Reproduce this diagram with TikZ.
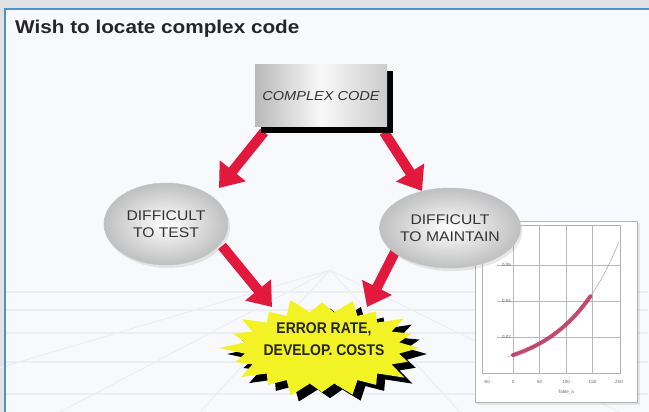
\documentclass[tikz,border=0pt]{standalone}
\usepackage{fontspec}
\setmainfont{Liberation Sans}
\newfontfamily\comicfont[FakeStretch=1.12]{Liberation Sans}
\newfontfamily\burstfont[FakeStretch=0.9]{Liberation Sans}
\usetikzlibrary{arrows.meta,calc,shapes.geometric,shadows}
\definecolor{bgout}{HTML}{E0E2E4}
\definecolor{panel}{HTML}{F8F9FC}
\definecolor{floorline}{HTML}{ECEEF1}
\definecolor{frameblue}{HTML}{4F92C8}
\definecolor{arrred}{HTML}{E2183C}
\definecolor{burstyellow}{HTML}{F2F224}
\definecolor{txtgray}{HTML}{333333}
\definecolor{curvered}{HTML}{B8305A}
\newcommand\burstoutline{%
  ({322+78*cos(-9)},{348+36*sin(-9)})
  \foreach \k/\s in {0/1.00,1/0.93,2/1.05,3/0.95,4/1.02,5/0.92,6/1.04,7/0.95,8/1.03,9/0.94,
                     10/1.06,11/0.96,12/1.02,13/0.93,14/1.05,15/0.95,16/1.03,17/0.94,18/1.04,19/0.97}
  { -- ({322+\s*97*cos(\k*18)},{348+\s*48*sin(\k*18)})
    -- ({322+78*cos(\k*18+9)},{348+36*sin(\k*18+9)}) } -- cycle}
\begin{document}
\begin{tikzpicture}[x=1pt,y=-1pt,
  redarrow/.style={draw=arrred, line width=10pt, -{Triangle[length=22pt,width=32pt]}},
  codebox/.style={rectangle, minimum width=132pt, minimum height=62pt, inner sep=0pt,
    left color=gray!55, right color=gray!40, middle color=gray!5,
    general shadow={fill=black, shadow xshift=6pt, shadow yshift=-6pt},
    font=\comicfont\itshape\fontsize{13}{15}\selectfont, text=txtgray},
  ellnode/.style={ellipse, inner sep=0pt, shading=radial, inner color=white, outer color=gray!50,
    draw=gray!45, line width=0.5pt, align=center,
    drop shadow={opacity=0.18, shadow xshift=2pt, shadow yshift=-3pt},
    font=\comicfont\fontsize{14}{17}\selectfont, text=txtgray},
  grid line/.style={draw=gray!55, line width=0.4pt},
  ticklab/.style={font=\fontsize{4.5}{5}\selectfont, text=gray!80!black, inner sep=0pt}]
\useasboundingbox (0,0) rectangle (649,412);
% backgrounds
\fill[bgout] (0,0) rectangle (649,412);
\fill[panel] (5,9) rectangle (649,412);
% faint floor lines
\foreach \yy in {292,310,333,362,394}
  \draw[floorline, line width=1.4pt] (6,\yy) -- (648,\yy);
\foreach \xx in {-150,60,200,460,620}
  \draw[floorline, line width=1pt] (330,270) -- (\xx,412);
\draw[frameblue, line width=1.6pt] (5,414) -- (5,9) -- (650,9);
% title
\node[anchor=base west, inner sep=0pt, font=\comicfont\bfseries\fontsize{18.5}{20}\selectfont, text=black!85]
  (title) at (15,34) {Wish to locate complex code};
% plot inset
\fill[black, opacity=0.08] (477,223) rectangle (640,405);
\filldraw[fill=white, draw=gray!60, line width=0.6pt] (475,221) rectangle (637,402);
\draw[gray!60, line width=0.5pt] (482,225) rectangle (620,373);
\foreach \d in {0,50,100,150}
  \draw[grid line] ({513+0.53*\d},225) -- ({513+0.53*\d},373);
\foreach \v/\yy in {0.02/337,0.04/301,0.06/265} {
  \draw[grid line] (497,\yy) -- (620,\yy);
  \node[ticklab, anchor=east] at (511,\yy) {\v};
}
\foreach \d/\lab in {-50/-50,0/0,50/50,100/100,150/150,200/200}
  \node[ticklab] at ({513+0.53*\d},382) {\lab};
\node[ticklab] at (566,392) {Table\_a};
\draw[gray!70, line width=0.5pt] plot[domain=-10:200, samples=50, smooth]
  ({513+0.53*\x},{373-17.9*exp(0.00996*\x)});
\draw[curvered, opacity=0.85, line width=4pt, line cap=round] plot[domain=0:146, samples=40, smooth]
  ({513+0.53*\x},{373-17.9*exp(0.00996*\x)});
% starburst
\begin{scope}[shift={(8,6)}]
  \fill[black] \burstoutline;
\end{scope}
\fill[burstyellow] \burstoutline;
\node[font=\burstfont\bfseries\fontsize{15.5}{22}\selectfont, text=black!85, align=center, inner sep=0pt]
  (err) at (324,339) {ERROR RATE,\\DEVELOP. COSTS};
% node positions
\coordinate (codec) at (321,96);
\coordinate (testc) at (166,224);
\coordinate (maintc) at (450,228);
% arrows
\draw[redarrow] ([shift={(-57,36)}]codec) -- ([shift={(53,-36)}]testc);
\draw[redarrow] ([shift={(63,36)}]codec) -- ([shift={(-28,-37)}]maintc);
\draw[redarrow] ([shift={(56,22)}]testc) -- ([shift={(-52,-32)}]err.center);
\draw[redarrow] ([shift={(-55,24)}]maintc) -- ([shift={(43,-32)}]err.center);
% box and ellipses
\node[codebox] (code) at (codec) {COMPLEX CODE};
\node[ellnode, minimum width=124pt, minimum height=82pt] (test) at (testc) {DIFFICULT\\TO TEST};
\node[ellnode, minimum width=136pt, minimum height=80pt] (maint) at (maintc) {DIFFICULT\\TO MAINTAIN};
\end{tikzpicture}
\end{document}
